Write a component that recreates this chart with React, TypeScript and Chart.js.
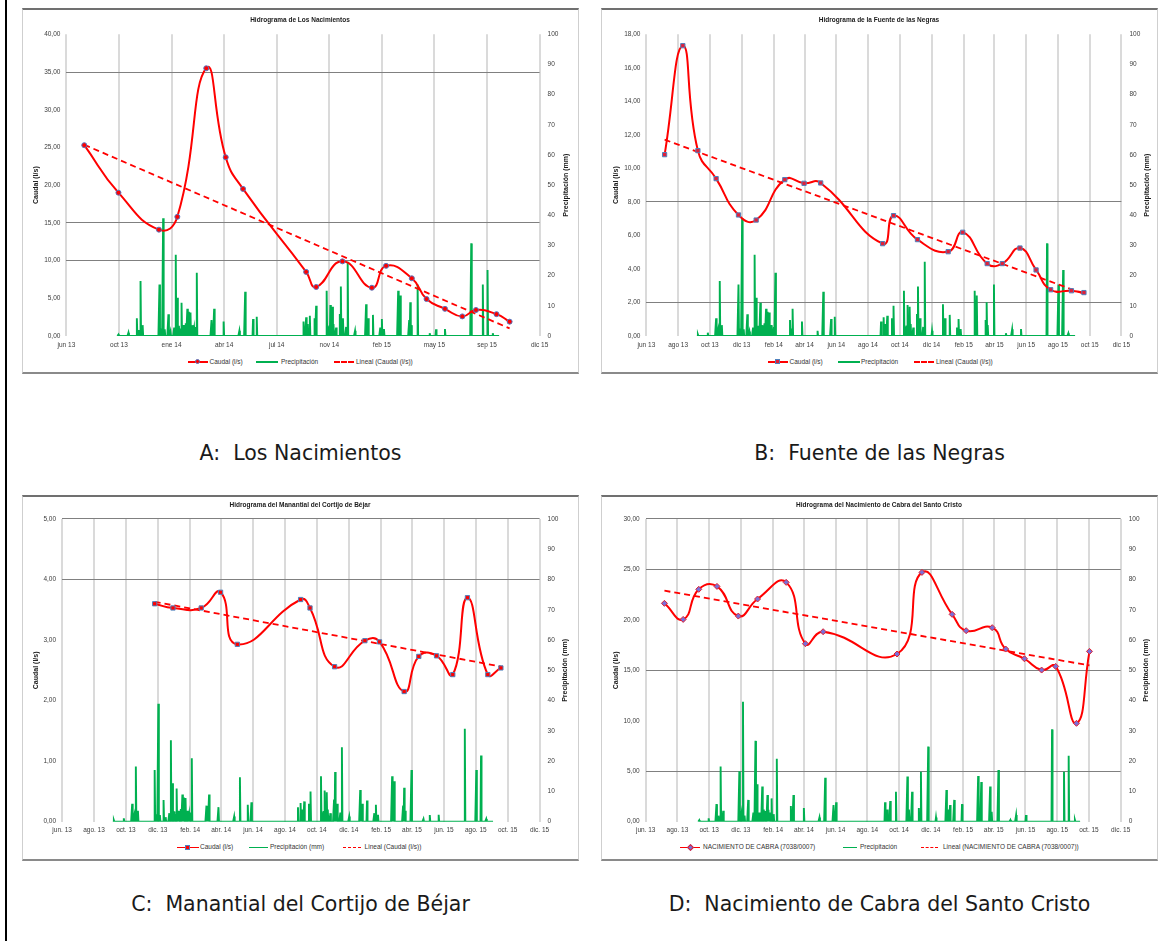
import React, { useEffect, useRef } from 'react';
import { Chart, registerables } from 'chart.js';

Chart.register(...registerables);

const FONT = '"Liberation Sans", Arial, sans-serif';
const ORIGIN = Date.UTC(2013, 5, 1);

function dayOf(iso: string): number {
  const [y, m, d] = iso.split('-').map(Number);
  return Math.round((Date.UTC(y, m - 1, d) - ORIGIN) / 86400000);
}

// ---- x-axis tick labels ----
const nacAxisStart = '2013-06-01';
const nacAxisEnd = '2015-11-18';
const nacTickLabels = ['jun 13', 'oct 13', 'ene 14', 'abr 14', 'jul 14', 'nov 14', 'feb 15', 'may 15', 'sep 15', 'dic 15'];

const bimonthTickDates = [
  '2013-06-01', '2013-08-01', '2013-10-01', '2013-12-01', '2014-02-01', '2014-04-01', '2014-06-01', '2014-08-01',
  '2014-10-01', '2014-12-01', '2015-02-01', '2015-04-01', '2015-06-01', '2015-08-01', '2015-10-01', '2015-12-01',
];
const negrasTickLabels = ['jun 13', 'ago 13', 'oct 13', 'dic 13', 'feb 14', 'abr 14', 'jun 14', 'ago 14', 'oct 14', 'dic 14', 'feb 15', 'abr 15', 'jun 15', 'ago 15', 'oct 15', 'dic 15'];
const bimonthTickLabels = ['jun. 13', 'ago. 13', 'oct. 13', 'dic. 13', 'feb. 14', 'abr. 14', 'jun. 14', 'ago. 14', 'oct. 14', 'dic. 14', 'feb. 15', 'abr. 15', 'jun. 15', 'ago. 15', 'oct. 15', 'dic. 15'];

// ---- Caudal (l/s) ----
const nacDates = ['2013-07-05', '2013-09-08', '2013-11-24', '2013-12-29', '2014-02-22', '2014-03-31', '2014-05-03', '2014-08-31', '2014-09-19', '2014-11-08', '2015-01-03', '2015-01-30', '2015-03-20', '2015-04-17', '2015-05-22', '2015-06-24', '2015-07-20', '2015-08-28', '2015-09-22'];
const nacCaudal = [25.3, 19.0, 14.1, 15.8, 35.5, 23.7, 19.5, 8.5, 6.5, 9.9, 6.4, 9.3, 7.65, 4.9, 3.6, 2.6, 3.45, 2.9, 1.9];

const negrasDates = ['2013-07-06', '2013-08-10', '2013-09-08', '2013-10-13', '2013-11-25', '2013-12-29', '2014-02-22', '2014-03-31', '2014-05-02', '2014-08-29', '2014-09-19', '2014-11-04', '2015-01-02', '2015-01-30', '2015-03-18', '2015-04-16', '2015-05-20', '2015-06-20', '2015-07-18', '2015-08-27', '2015-09-20'];
const negrasCaudal = [10.82, 17.32, 11.06, 9.39, 7.22, 6.92, 9.33, 9.11, 9.13, 5.51, 7.18, 5.75, 5.03, 6.19, 4.32, 4.32, 5.25, 3.94, 2.76, 2.70, 2.59];

const bejarDates = ['2013-11-25', '2013-12-30', '2014-02-22', '2014-03-31', '2014-05-02', '2014-08-31', '2014-09-18', '2014-11-04', '2015-01-01', '2015-01-29', '2015-03-17', '2015-04-14', '2015-05-18', '2015-06-18', '2015-07-16', '2015-08-24', '2015-09-18'];
const bejarCaudal = [3.60, 3.53, 3.53, 3.79, 2.93, 3.67, 3.53, 2.56, 2.99, 2.97, 2.15, 2.73, 2.74, 2.43, 3.70, 2.43, 2.54];

const cabraDates = ['2013-07-07', '2013-08-12', '2013-09-11', '2013-10-16', '2013-11-26', '2014-01-02', '2014-02-26', '2014-04-04', '2014-05-08', '2014-09-27', '2014-11-14', '2015-01-11', '2015-02-07', '2015-03-29', '2015-04-24', '2015-05-30', '2015-07-02', '2015-07-29', '2015-09-07', '2015-10-02'];
const cabraCaudal = [21.64, 20.05, 23.03, 23.32, 20.38, 22.07, 23.72, 17.64, 18.83, 16.62, 24.71, 20.55, 18.93, 19.23, 17.11, 16.15, 15.03, 15.39, 9.75, 16.88];

// ---- Precipitación (mm), daily record; days not listed are dry ----
const rainFrom = '2013-09-06';
const rainTo = '2015-09-03';
const rainDates = [
  '2013-09-08', '2013-09-27', '2013-10-13', '2013-10-17', '2013-10-20', '2013-10-24',
  '2013-11-25', '2013-11-29', '2013-12-02', '2013-12-05', '2013-12-12', '2013-12-16', '2013-12-23', '2013-12-26', '2013-12-29',
  '2014-01-01', '2014-01-03', '2014-01-06', '2014-01-09', '2014-01-11', '2014-01-14', '2014-01-17', '2014-01-19', '2014-01-21',
  '2014-01-23', '2014-01-25', '2014-01-27', '2014-01-30', '2014-02-01', '2014-02-04',
  '2014-03-04', '2014-03-06', '2014-03-09', '2014-03-27', '2014-04-26', '2014-05-07', '2014-05-22', '2014-05-29',
  '2014-08-26', '2014-08-31', '2014-09-03', '2014-09-07', '2014-09-16', '2014-09-19',
  '2014-10-09', '2014-10-12', '2014-10-14', '2014-10-16', '2014-10-20', '2014-10-22', '2014-10-27',
  '2014-11-03', '2014-11-05', '2014-11-07', '2014-11-09', '2014-11-15', '2014-11-18', '2014-12-02',
  '2014-12-23', '2014-12-25', '2014-12-27', '2015-01-05', '2015-01-19', '2015-01-22', '2015-01-26',
  '2015-02-22', '2015-02-24', '2015-02-26', '2015-03-15', '2015-03-17', '2015-03-19', '2015-03-31',
  '2015-04-23', '2015-05-05', '2015-05-22', '2015-07-11', '2015-08-02', '2015-08-11', '2015-08-21',
];
const rainMm = [
  0.5, 1.1, 5.9, 2.0, 18.2, 3.6,
  17.1, 2.5, 39, 2.2, 7.2, 1.5, 2.8, 26.9, 12.7,
  3.4, 2.5, 11, 3.6, 3.6, 4.2, 9, 8, 4.5,
  7.8, 3.0, 3.6, 2.5, 3.0, 21,
  5.3, 2.5, 9, 4.8, 1.7, 14.7, 5.6, 6.4,
  4.8, 6.2, 4.0, 6.7, 5.9, 10,
  15, 3.1, 3.5, 10.3, 9.7, 4.0, 2.8,
  7.3, 16.4, 4.5, 5.9, 3.0, 24.6, 1.7,
  10.5, 4.0, 5.9, 7, 2.8, 5.6, 2.3,
  15, 12.0, 13.4, 5.3, 11.2, 3.6, 17.1,
  0.9, 2.2, 2.3, 30.7, 17.1, 21.9, 0.9,
];

const cabraRainFrom = '2013-09-10';
const cabraRainTo = '2015-09-14';
const cabraRainDates = [
  '2013-09-12', '2013-09-30', '2013-10-15', '2013-10-19', '2013-10-23', '2013-10-28',
  '2013-11-28', '2013-12-02', '2013-12-05', '2013-12-08', '2013-12-15', '2013-12-25', '2013-12-29',
  '2014-01-01', '2014-01-05', '2014-01-11', '2014-01-14', '2014-01-17', '2014-01-21', '2014-01-23', '2014-01-26', '2014-01-29', '2014-02-02', '2014-02-08',
  '2014-03-07', '2014-03-12', '2014-04-01', '2014-05-01', '2014-05-12', '2014-05-28', '2014-06-02',
  '2014-09-04', '2014-09-08', '2014-09-14', '2014-09-25',
  '2014-10-17', '2014-10-20', '2014-10-26', '2014-11-08', '2014-11-12', '2014-11-26', '2014-12-11',
  '2014-12-31', '2015-01-03', '2015-01-07', '2015-01-15', '2015-01-30',
  '2015-03-02', '2015-03-08', '2015-03-25', '2015-03-28', '2015-04-10',
  '2015-05-03', '2015-05-14', '2015-06-02', '2015-07-22', '2015-08-14', '2015-08-23', '2015-09-04',
];
const cabraRainMm = [
  0.5, 1.1, 5.8, 2.0, 18.2, 3.6,
  16.7, 2.5, 39.6, 2.0, 7.2, 3, 26.7,
  12.4, 3.0, 11.6, 4.0, 3.5, 8.8, 3.9, 3.0, 7.7, 2.5, 20.8,
  5.2, 8.8, 4.5, 1.4, 14.5, 5.5, 6.4,
  6.4, 4.0, 6.8, 9.9,
  14.9, 4.0, 9.9, 4.5, 16.5, 24.8, 1.4,
  10.5, 4.0, 5.5, 7.2, 5.8,
  15.1, 13.1, 11.6, 3.3, 17.1,
  0.6, 2.2, 2.2, 30.5, 16.5, 21.8, 0.6,
];

type Pt = { x: number; y: number };

function dailyRain(from: string, to: string, dates: string[], mm: number[]): Pt[] {
  const byDay = new Map<number, number>();
  dates.forEach((d, i) => byDay.set(dayOf(d), mm[i]));
  const pts: Pt[] = [];
  for (let d = dayOf(from); d <= dayOf(to); d++) pts.push({ x: d, y: byDay.get(d) ?? 0 });
  return pts;
}

function linearTrend(pts: Pt[]): Pt[] {
  const n = pts.length;
  const mx = pts.reduce((s, p) => s + p.x, 0) / n;
  const my = pts.reduce((s, p) => s + p.y, 0) / n;
  let sxy = 0;
  let sxx = 0;
  pts.forEach((p) => {
    sxy += (p.x - mx) * (p.y - my);
    sxx += (p.x - mx) * (p.x - mx);
  });
  const b = sxy / sxx;
  const a = my - b * mx;
  const x0 = pts[0].x;
  const x1 = pts[n - 1].x;
  return [{ x: x0, y: a + b * x0 }, { x: x1, y: a + b * x1 }];
}

const fmtComma = (v: number) => v.toFixed(2).replace('.', ',');

// Rotated axis titles (both read bottom-to-top)
const axisTitles = {
  id: 'axisTitles',
  afterDraw(chart: any, _args: any, opts: any) {
    const { ctx, chartArea } = chart;
    const cy = (chartArea.top + chartArea.bottom) / 2;
    ctx.save();
    ctx.font = `bold 7px ${FONT}`;
    ctx.fillStyle = '#1a1a1a';
    ctx.textAlign = 'center';
    ctx.textBaseline = 'middle';
    const items: [number, string][] = [[opts.leftX, opts.left], [opts.rightX, opts.right]];
    items.forEach(([x, text]) => {
      ctx.save();
      ctx.translate(x, cy);
      ctx.rotate(-Math.PI / 2);
      ctx.fillText(text, 0, 0);
      ctx.restore();
    });
    ctx.restore();
  },
};

type LegendItem = { kind: 'marker' | 'line' | 'dash'; x0: number; x1: number; tx: number; label: string };

type PanelSpec = {
  id: string;
  title: string;
  box: { x: number; y: number; w: number; h: number };
  plot: { l: number; r: number; t: number; b: number };
  titleTop: number;
  yMax: number;
  yStep: number;
  hLines: number[];
  xMin: number;
  xMax: number;
  xStep?: number;
  xTickDays?: number[];
  xLabels: string[];
  caudal: Pt[];
  rain: Pt[];
  marker: { style: string; radius: number; fill: string; stroke: string };
  leftTitleX: number;
  rightTitleX: number;
  legendY: number;
  legendThin: boolean;
  legend: LegendItem[];
  caption: string;
  captionY: number;
};

const CANVAS_H = 345;

function buildConfig(p: PanelSpec): any {
  const canvasW = p.box.w - 3;
  const trend = linearTrend(p.caudal);
  const xTicks: any = {
    autoSkip: false,
    maxRotation: 0,
    minRotation: 0,
    padding: 5,
    color: '#3c3c3c',
    font: { family: FONT, size: 6.5 },
    callback: (_v: number, i: number) => p.xLabels[i],
  };
  if (p.xStep) xTicks.stepSize = p.xStep;
  return {
    type: 'line',
    data: {
      datasets: [
        {
          label: p.legend[0].label,
          data: p.caudal,
          borderColor: '#ff0000',
          borderWidth: 2,
          tension: 0.5,
          pointStyle: p.marker.style,
          pointRadius: p.marker.radius,
          pointBackgroundColor: p.marker.fill,
          pointBorderColor: p.marker.stroke,
          pointBorderWidth: 1,
          yAxisID: 'y',
          order: 1,
        },
        {
          label: p.legend[2].label,
          data: trend,
          borderColor: '#ff0000',
          borderWidth: 1.8,
          borderDash: [6, 4],
          pointRadius: 0,
          tension: 0,
          yAxisID: 'y',
          order: 2,
        },
        {
          label: p.legend[1].label,
          data: p.rain,
          borderColor: '#00b050',
          borderWidth: 1.9,
          pointRadius: 0,
          tension: 0,
          yAxisID: 'y1',
          order: 3,
        },
      ],
    },
    options: {
      responsive: false,
      animation: false,
      events: [],
      layout: { padding: 0 },
      plugins: {
        legend: { display: false },
        tooltip: { enabled: false },
        title: {
          display: true,
          text: p.title,
          color: '#1a1a1a',
          font: { family: FONT, size: 6.5, weight: 'bold', lineHeight: 1.2 },
          padding: { top: p.titleTop, bottom: p.plot.t - p.titleTop - 7.8 },
        },
        axisTitles: {
          left: 'Caudal (l/s)',
          right: 'Precipitación (mm)',
          leftX: p.leftTitleX,
          rightX: p.rightTitleX,
        },
      },
      scales: {
        x: {
          type: 'linear',
          min: p.xMin,
          max: p.xMax,
          afterBuildTicks: p.xTickDays
            ? (s: any) => {
                s.ticks = p.xTickDays!.map((value) => ({ value }));
              }
            : undefined,
          ticks: xTicks,
          grid: { color: '#dadada', lineWidth: 2, drawTicks: false },
          border: { display: false },
          afterFit: (s: any) => {
            s.height = CANVAS_H - p.plot.b;
          },
        },
        y: {
          position: 'left',
          min: 0,
          max: p.yMax,
          ticks: {
            stepSize: p.yStep,
            padding: 6,
            color: '#3c3c3c',
            font: { family: FONT, size: 6.5 },
            callback: (v: number) => fmtComma(v),
          },
          grid: {
            drawTicks: false,
            lineWidth: 1,
            color: (c: any) => (p.hLines.some((h) => Math.abs(h - c.tick.value) < 1e-6) ? '#808080' : 'rgba(0,0,0,0)'),
          },
          border: { display: false },
          afterFit: (s: any) => {
            s.width = p.plot.l;
          },
        },
        y1: {
          position: 'right',
          min: 0,
          max: 100,
          ticks: {
            stepSize: 10,
            padding: 8,
            color: '#3c3c3c',
            font: { family: FONT, size: 6.5 },
            callback: (v: number) => String(v),
          },
          grid: { drawOnChartArea: false, drawTicks: false },
          border: { display: false },
          afterFit: (s: any) => {
            s.width = canvasW - p.plot.r;
          },
        },
      },
    },
    plugins: [axisTitles],
  };
}

function LegendSymbol({ item, y, thin, marker }: { item: LegendItem; y: number; thin: boolean; marker: PanelSpec['marker'] }) {
  const w = item.x1 - item.x0;
  const lw = thin ? 1 : 2;
  const color = item.kind === 'line' ? '#00b050' : '#ff0000';
  const top = Math.round(y - lw / 2);
  const base: React.CSSProperties = { position: 'absolute', left: Math.round(item.x0), top, width: Math.round(w), height: 0 };
  if (item.kind === 'dash') {
    return <div style={{ ...base, borderTop: `${lw}px dashed ${color}` }} />;
  }
  return (
    <>
      <div style={{ ...base, borderTop: `${lw}px solid ${color}` }} />
      {item.kind === 'marker' && (
        <div
          style={{
            position: 'absolute',
            left: Math.round(item.x0 + w / 2 - 2.5),
            top: Math.round(y - 2.5),
            width: 5,
            height: 5,
            boxSizing: 'border-box',
            background: marker.fill,
            border: `1px solid ${marker.stroke}`,
            borderRadius: marker.style === 'circle' ? '50%' : 0,
            transform: marker.style === 'rectRot' ? 'rotate(45deg)' : undefined,
          }}
        />
      )}
    </>
  );
}

function Panel({ spec }: { spec: PanelSpec }) {
  const ref = useRef<HTMLCanvasElement>(null);
  useEffect(() => {
    const chart = new Chart(ref.current as HTMLCanvasElement, buildConfig(spec));
    return () => chart.destroy();
  }, [spec]);
  const { box } = spec;
  const panelCenter = box.x + box.w / 2;
  return (
    <>
      <div
        style={{
          position: 'absolute',
          left: box.x,
          top: box.y,
          width: box.w,
          height: box.h,
          boxSizing: 'border-box',
          borderTop: '2px solid #707070',
          borderBottom: '2px solid #8a8a8a',
          borderLeft: '1px solid #cfcfcf',
          borderRight: '1px solid #cfcfcf',
        }}
      />
      <canvas
        ref={ref}
        width={box.w - 3}
        height={CANVAS_H}
        style={{ position: 'absolute', left: box.x + 1, top: box.y + 2 }}
      />
      {spec.legend.map((item, i) => (
        <React.Fragment key={i}>
          <LegendSymbol item={item} y={spec.legendY} thin={spec.legendThin} marker={spec.marker} />
          <div
            style={{
              position: 'absolute',
              left: item.tx,
              top: spec.legendY - 5,
              height: 10,
              lineHeight: '10px',
              fontFamily: FONT,
              fontSize: 6.5,
              color: '#333',
              whiteSpace: 'nowrap',
            }}
          >
            {item.label}
          </div>
        </React.Fragment>
      ))}
      <div
        style={{
          position: 'absolute',
          left: panelCenter - 300,
          width: 600,
          top: spec.captionY - 14,
          height: 28,
          lineHeight: '28px',
          textAlign: 'center',
          fontFamily: '"DejaVu Sans", Verdana, sans-serif',
          fontSize: 20.5,
          color: '#1a1a1a',
          whiteSpace: 'pre',
        }}
      >
        {spec.caption}
      </div>
    </>
  );
}

const toPts = (dates: string[], values: number[]): Pt[] => dates.map((d, i) => ({ x: dayOf(d), y: values[i] }));

const commonRain = dailyRain(rainFrom, rainTo, rainDates, rainMm);
const bimonthDays = bimonthTickDates.map(dayOf);

const panels: PanelSpec[] = [
  {
    id: 'A',
    title: 'Hidrograma de Los Nacimientos',
    box: { x: 22, y: 8, w: 557, h: 366 },
    plot: { l: 43.4, r: 516.6, t: 24.3, b: 326 },
    titleTop: 6.1,
    yMax: 40,
    yStep: 5,
    hLines: [10, 15, 35],
    xMin: dayOf(nacAxisStart),
    xMax: dayOf(nacAxisEnd),
    xStep: 100,
    xLabels: nacTickLabels,
    caudal: toPts(nacDates, nacCaudal),
    rain: commonRain,
    marker: { style: 'circle', radius: 2.5, fill: '#ff0000', stroke: '#5576c0' },
    leftTitleX: 13,
    rightTitleX: 543.4,
    legendY: 361.7,
    legendThin: false,
    legend: [
      { kind: 'marker', x0: 188, x1: 207.5, tx: 209.5, label: 'Caudal (l/s)' },
      { kind: 'line', x0: 256, x1: 278, tx: 281, label: 'Precipitación' },
      { kind: 'dash', x0: 333.6, x1: 354, tx: 356, label: 'Lineal (Caudal (l/s))' },
    ],
    caption: 'A:  Los Nacimientos',
    captionY: 452.5,
  },
  {
    id: 'B',
    title: 'Hidrograma de la Fuente de las Negras',
    box: { x: 601, y: 8, w: 557, h: 366 },
    plot: { l: 44.4, r: 519.4, t: 24.3, b: 326 },
    titleTop: 6.1,
    yMax: 18,
    yStep: 2,
    hLines: [2, 8],
    xMin: 0,
    xMax: dayOf('2015-12-01'),
    xTickDays: bimonthDays,
    xLabels: negrasTickLabels,
    caudal: toPts(negrasDates, negrasCaudal),
    rain: commonRain,
    marker: { style: 'rect', radius: 3, fill: '#e0203a', stroke: '#4f81bd' },
    leftTitleX: 14,
    rightTitleX: 545,
    legendY: 361.7,
    legendThin: false,
    legend: [
      { kind: 'marker', x0: 768, x1: 787.5, tx: 789.5, label: 'Caudal (l/s)' },
      { kind: 'line', x0: 837.5, x1: 859, tx: 861, label: 'Precipitación' },
      { kind: 'dash', x0: 914, x1: 934, tx: 936, label: 'Lineal (Caudal (l/s))' },
    ],
    caption: 'B:  Fuente de las Negras',
    captionY: 452.5,
  },
  {
    id: 'C',
    title: 'Hidrograma del Manantial del Cortijo de Béjar',
    box: { x: 22, y: 495, w: 557, h: 366 },
    plot: { l: 39.1, r: 516.6, t: 22, b: 324.7 },
    titleTop: 4.1,
    yMax: 5,
    yStep: 1,
    hLines: [4, 5],
    xMin: 0,
    xMax: dayOf('2015-12-01'),
    xTickDays: bimonthDays,
    xLabels: bimonthTickLabels,
    caudal: toPts(bejarDates, bejarCaudal),
    rain: commonRain,
    marker: { style: 'rect', radius: 3, fill: '#ff0000', stroke: '#4f81bd' },
    leftTitleX: 13,
    rightTitleX: 541.6,
    legendY: 847.3,
    legendThin: true,
    legend: [
      { kind: 'marker', x0: 177, x1: 198.6, tx: 200, label: 'Caudal (l/s)' },
      { kind: 'line', x0: 248.6, x1: 268, tx: 270, label: 'Precipitación (mm)' },
      { kind: 'dash', x0: 343, x1: 361, tx: 364.6, label: 'Lineal (Caudal (l/s))' },
    ],
    caption: 'C:  Manantial del Cortijo de Béjar',
    captionY: 904,
  },
  {
    id: 'D',
    title: 'Hidrograma del Nacimiento de Cabra del Santo Cristo',
    box: { x: 601, y: 495, w: 557, h: 366 },
    plot: { l: 43.7, r: 518.7, t: 22, b: 324.7 },
    titleTop: 4.1,
    yMax: 30,
    yStep: 5,
    hLines: [5, 15, 25, 30],
    xMin: 0,
    xMax: dayOf('2015-12-01'),
    xTickDays: bimonthDays,
    xLabels: bimonthTickLabels,
    caudal: toPts(cabraDates, cabraCaudal),
    rain: dailyRain(cabraRainFrom, cabraRainTo, cabraRainDates, cabraRainMm),
    marker: { style: 'rectRot', radius: 3, fill: '#7a6fd8', stroke: '#e02030' },
    leftTitleX: 14,
    rightTitleX: 544,
    legendY: 847.3,
    legendThin: true,
    legend: [
      { kind: 'marker', x0: 680, x1: 700, tx: 703, label: 'NACIMIENTO DE CABRA (7038/0007)' },
      { kind: 'line', x0: 843, x1: 857, tx: 860, label: 'Precipitación' },
      { kind: 'dash', x0: 921, x1: 937.5, tx: 943, label: 'Lineal (NACIMIENTO DE CABRA (7038/0007))' },
    ],
    caption: 'D:  Nacimiento de Cabra del Santo Cristo',
    captionY: 904,
  },
];

export default function App() {
  return (
    <div
      style={{
        position: 'absolute',
        left: 0,
        top: 0,
        width: 1159,
        height: 943,
        background: '#fff',
        overflow: 'hidden',
      }}
    >
      <div style={{ position: 'absolute', left: 5, top: 0, width: 2, height: 941, background: '#000' }} />
      {panels.map((p) => (
        <Panel key={p.id} spec={p} />
      ))}
    </div>
  );
}
